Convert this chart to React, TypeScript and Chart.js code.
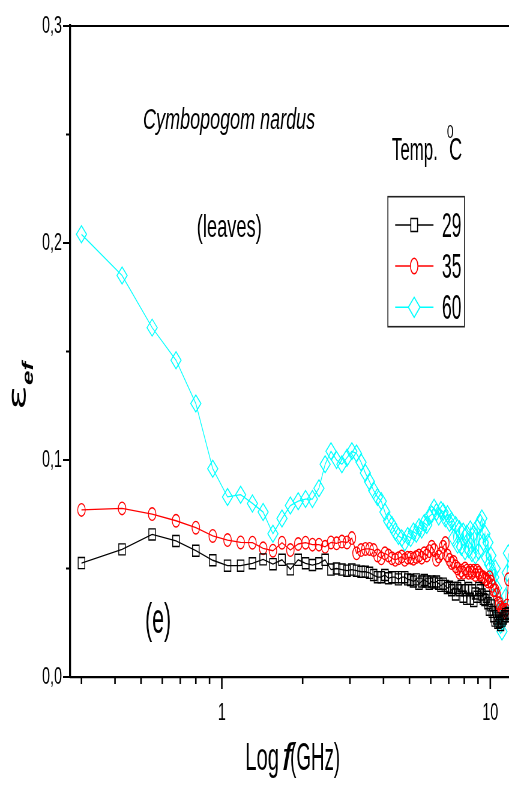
import React, { useEffect, useRef } from 'react';
import { Chart, registerables } from 'chart.js';

Chart.register(...registerables);

// ---------------- data ----------------
const freqGHz = [
  0.3, 0.425, 0.55, 0.675, 0.8, 0.925, 1.05, 1.175,
  1.3, 1.425, 1.55, 1.675, 1.8, 1.925, 2.05, 2.175,
  2.3, 2.425, 2.55, 2.675, 2.8, 2.925, 3.05, 3.175,
  3.3, 3.425, 3.55, 3.675, 3.8, 3.925, 4.05, 4.175,
  4.3, 4.425, 4.55, 4.675, 4.8, 4.925, 5.05, 5.175,
  5.3, 5.425, 5.55, 5.675, 5.8, 5.925, 6.05, 6.175,
  6.3, 6.425, 6.55, 6.675, 6.8, 6.925, 7.05, 7.175,
  7.3, 7.425, 7.55, 7.675, 7.8, 7.925, 8.05, 8.175,
  8.3, 8.425, 8.55, 8.675, 8.8, 8.925, 9.05, 9.175,
  9.3, 9.425, 9.55, 9.675, 9.8, 9.925, 10.05, 10.175,
  10.3, 10.425, 10.55, 10.675, 10.8, 10.925, 11.05, 11.175,
  11.3, 11.425, 11.55, 11.675,
];

const eps29 = [
  0.0525, 0.0588, 0.0657, 0.0627, 0.0582, 0.0538, 0.0513, 0.0513,
  0.0524, 0.0542, 0.052, 0.054, 0.0496, 0.054, 0.0524, 0.0516,
  0.0524, 0.054, 0.0495, 0.05, 0.0495, 0.049, 0.0495, 0.049,
  0.0485, 0.0485, 0.048, 0.047, 0.046, 0.046, 0.047, 0.0455,
  0.046, 0.046, 0.045, 0.046, 0.046, 0.045, 0.0447, 0.044,
  0.045, 0.043, 0.044, 0.0447, 0.044, 0.043, 0.044, 0.0435,
  0.044, 0.043, 0.042, 0.043, 0.042, 0.041, 0.0416, 0.04,
  0.041, 0.038, 0.041, 0.04, 0.042, 0.037, 0.04, 0.036,
  0.041, 0.036, 0.04, 0.035, 0.0385, 0.037, 0.041, 0.04,
  0.038, 0.036, 0.0355, 0.037, 0.034, 0.031, 0.033, 0.03,
  0.028, 0.026, 0.027, 0.025, 0.0255, 0.024, 0.026, 0.027,
  0.028, 0.029, 0.028, 0.0295,
];

const eps35 = [
  0.077, 0.0777, 0.0751, 0.072, 0.0688, 0.065, 0.0631, 0.062,
  0.0619, 0.0593, 0.0582, 0.0619, 0.0585, 0.0613, 0.0619, 0.061,
  0.061, 0.06, 0.062, 0.0616, 0.0624, 0.062, 0.064, 0.057,
  0.0585, 0.059, 0.059, 0.0585, 0.056, 0.0547, 0.057, 0.056,
  0.0547, 0.054, 0.0547, 0.0555, 0.054, 0.055, 0.055, 0.0545,
  0.0553, 0.056, 0.055, 0.057, 0.056, 0.058, 0.06, 0.0585,
  0.054, 0.0555, 0.057, 0.06, 0.0617, 0.056, 0.054, 0.0525,
  0.053, 0.051, 0.05, 0.048, 0.049, 0.048, 0.05, 0.049,
  0.048, 0.049, 0.048, 0.049, 0.047, 0.049, 0.048, 0.047,
  0.046, 0.046, 0.045, 0.045, 0.044, 0.046, 0.044, 0.042,
  0.04, 0.04, 0.038, 0.034, 0.034, 0.032, 0.031, 0.031,
  0.03, 0.031, 0.033, 0.045,
];

const eps60 = [
  0.204, 0.185, 0.161, 0.146, 0.126, 0.096, 0.083, 0.084,
  0.08, 0.076, 0.066, 0.073, 0.079, 0.081, 0.082, 0.082,
  0.087, 0.098, 0.104, 0.1, 0.098, 0.101, 0.104, 0.103,
  0.099, 0.094, 0.09, 0.086, 0.083, 0.081, 0.076, 0.072,
  0.07, 0.067, 0.065, 0.064, 0.062, 0.065, 0.064, 0.067,
  0.066, 0.069, 0.068, 0.071, 0.07, 0.074, 0.075, 0.078,
  0.076, 0.074, 0.077, 0.076, 0.073, 0.075, 0.071, 0.072,
  0.064, 0.07, 0.061, 0.068, 0.06, 0.067, 0.058, 0.066,
  0.059, 0.068, 0.057, 0.066, 0.056, 0.069, 0.058, 0.071,
  0.073, 0.062, 0.066, 0.055, 0.062, 0.052, 0.056, 0.048,
  0.046, 0.05, 0.041, 0.036, 0.03, 0.024, 0.021, 0.027,
  0.031, 0.037, 0.048, 0.057,
];

const seriesLabels = ['29', '35', '60'];
const seriesColors = ['#000000', '#ff0000', '#00ffff'];

const xMajorTicks = [1, 10];
const xTickLabels = ['1', '10'];
const xMinorTicks = [0.3, 0.4, 0.5, 0.6, 0.7, 0.8, 0.9, 2, 3, 4, 5, 6, 7, 8, 9];
const yMajorTicks = [0, 0.1, 0.2, 0.3];
const yTickLabels = ['0,0', '0,1', '0,2', '0,3'];
const yMinorTicks = [0.05, 0.15, 0.25];

// ---------------- geometry ----------------
const W = 509;
const H = 788;
const SQ = 0.6; // horizontal squeeze of the drawing
const IW = Math.round(W / SQ);
const X = (sx: number) => sx / SQ;
const FONT = "'Liberation Sans', Arial, sans-serif";

function fitText(ctx: CanvasRenderingContext2D, text: string, sx: number, baseline: number, screenW: number, font: string) {
  ctx.save();
  ctx.font = font;
  ctx.textAlign = 'left';
  ctx.textBaseline = 'alphabetic';
  const w = ctx.measureText(text).width || 1;
  ctx.translate(X(sx), baseline);
  ctx.scale(X(screenW) / w, 1);
  ctx.fillText(text, 0, 0);
  ctx.restore();
}

const decorPlugin = {
  id: 'decor',
  afterDraw(chart: any) {
    const ctx: CanvasRenderingContext2D = chart.ctx;
    const ca = chart.chartArea;
    const xs = chart.scales.x;
    const ys = chart.scales.y;
    ctx.save();
    ctx.strokeStyle = '#000';
    ctx.fillStyle = '#000';
    // top frame line
    ctx.lineWidth = 2;
    ctx.beginPath();
    ctx.moveTo(ca.left, ca.top);
    ctx.lineTo(ca.right, ca.top);
    ctx.stroke();
    // x ticks
    ctx.lineWidth = 2.6;
    const xt = (v: number, len: number) => {
      const p = xs.getPixelForValue(v);
      ctx.beginPath();
      ctx.moveTo(p, ca.bottom);
      ctx.lineTo(p, ca.bottom + len);
      ctx.stroke();
    };
    xMajorTicks.forEach((v) => xt(v, 12));
    xMinorTicks.forEach((v) => xt(v, 7));
    // y ticks
    ctx.lineWidth = 2;
    const yt = (v: number, len: number) => {
      const p = ys.getPixelForValue(v);
      ctx.beginPath();
      ctx.moveTo(ca.left, p);
      ctx.lineTo(ca.left - len, p);
      ctx.stroke();
    };
    yMajorTicks.forEach((v) => yt(v, X(7)));
    yMinorTicks.forEach((v) => yt(v, X(4)));

    // annotations
    fitText(ctx, 'Cymbopogom nardus', 143, 128.5, 172, `italic 30px ${FONT}`);
    fitText(ctx, '(leaves)', 196.7, 236.7, 65, `32px ${FONT}`);
    fitText(ctx, 'Temp.', 391.7, 160, 46, `31px ${FONT}`);
    fitText(ctx, 'C', 449, 160, 13, `31px ${FONT}`);
    fitText(ctx, '0', 446.7, 138, 6.7, `19px ${FONT}`);
    fitText(ctx, '(e)', 145, 633, 26, `42px ${FONT}`);

    // x axis title
    fitText(ctx, 'Log', 245, 770, 34, `38px ${FONT}`);
    fitText(ctx, 'f', 282, 770, 10, `italic 38px ${FONT}`);
    fitText(ctx, '(GHz)', 290, 770, 50, `38px ${FONT}`);

    // y axis title (rotated)
    ctx.save();
    ctx.translate(X(25), 410);
    ctx.rotate(-Math.PI / 2);
    ctx.textAlign = 'left';
    ctx.textBaseline = 'alphabetic';
    ctx.font = "40px 'DejaVu Sans', sans-serif";
    let w = ctx.measureText('ε').width || 1;
    ctx.save();
    ctx.scale(25 / w, 1);
    ctx.fillText('ε', 0, 0);
    ctx.restore();
    ctx.font = `italic bold 26px ${FONT}`;
    w = ctx.measureText('ef').width || 1;
    ctx.save();
    ctx.translate(25, X(8));
    ctx.scale(23 / w, 1);
    ctx.fillText('ef', 0, 0);
    ctx.restore();
    ctx.restore();

    // legend
    ctx.lineWidth = 1.6;
    ctx.strokeStyle = '#222';
    ctx.strokeRect(X(387.7), 196.7, X(464.3 - 387.7), 130);
    const rowsY = [225, 266, 307.3];
    const baseY = [236.7, 278.3, 319.3];
    for (let i = 0; i < 3; i++) {
      const cy = rowsY[i];
      const cx = X(414);
      ctx.strokeStyle = seriesColors[i];
      ctx.lineWidth = 1.4;
      ctx.beginPath();
      ctx.moveTo(X(395), cy);
      ctx.lineTo(X(433.3), cy);
      ctx.stroke();
      ctx.beginPath();
      if (i === 0) {
        ctx.rect(cx - X(3.4), cy - 6.5, X(6.8), 13);
      } else if (i === 1) {
        ctx.ellipse(cx, cy, X(3.7), 7.8, 0, 0, Math.PI * 2);
      } else {
        ctx.moveTo(cx, cy - 10);
        ctx.lineTo(cx + X(5.8), cy);
        ctx.lineTo(cx, cy + 10);
        ctx.lineTo(cx - X(5.8), cy);
        ctx.closePath();
      }
      ctx.fillStyle = '#fff';
      ctx.fill();
      ctx.lineWidth = 1.6;
      ctx.stroke();
      ctx.fillStyle = '#000';
      fitText(ctx, seriesLabels[i], 441.7, baseY[i], 19.5, `35px ${FONT}`);
    }
    ctx.restore();
  },
};

export default function App() {
  const ref = useRef<HTMLCanvasElement | null>(null);

  useEffect(() => {
    const canvas = ref.current;
    if (!canvas) return;
    const series = [eps29, eps35, eps60];
    const styles = ['rect', 'circle', 'rectRot'];
    const radii = [7.8, 6.3, 8.5];
    const chart = new Chart(canvas, {
      type: 'line',
      data: {
        datasets: series.map((vals, k) => ({
          label: seriesLabels[k],
          data: freqGHz.map((f, i) => ({ x: f, y: vals[i] })),
          borderColor: seriesColors[k],
          borderWidth: 1.3,
          pointStyle: styles[k] as any,
          pointRadius: radii[k],
          pointBorderColor: seriesColors[k],
          pointBackgroundColor: 'rgba(0,0,0,0)',
          pointBorderWidth: 1.4,
          tension: 0,
          fill: false,
        })),
      },
      options: {
        responsive: false,
        animation: false,
        devicePixelRatio: 1,
        events: [],
        layout: { autoPadding: false, padding: { top: 26, right: 0, left: 0, bottom: 0 } },
        plugins: { legend: { display: false }, tooltip: { enabled: false }, title: { display: false } },
        scales: {
          x: {
            type: 'logarithmic',
            position: 'bottom',
            min: 0.272,
            max: 11.74,
            grid: { display: false, drawTicks: false, drawOnChartArea: false },
            border: { display: true, color: '#000', width: 2.2 },
            ticks: {
              autoSkip: false,
              maxRotation: 0,
              minRotation: 0,
              padding: 22,
              color: '#000',
              font: { family: FONT, size: 24 },
              callback: (v: any) => {
                const idx = xMajorTicks.findIndex((m) => Math.abs(m - Number(v)) < 1e-9);
                return idx >= 0 ? xTickLabels[idx] : '';
              },
            },
            afterBuildTicks: (s: any) => {
              s.ticks = [...xMinorTicks, ...xMajorTicks].sort((a, b) => a - b).map((v) => ({ value: v }));
            },
            afterFit: (s: any) => {
              s.height = H - 677;
              s.paddingLeft = 0;
              s.paddingRight = 0;
            },
          },
          y: {
            type: 'linear',
            min: 0,
            max: 0.3,
            grid: { display: false, drawTicks: false, drawOnChartArea: false },
            border: { display: true, color: '#000', width: 3.3 },
            ticks: {
              autoSkip: false,
              padding: X(8),
              color: '#000',
              font: { family: FONT, size: 24 },
              callback: (v: any) => {
                const idx = yMajorTicks.findIndex((m) => Math.abs(m - Number(v)) < 1e-9);
                return idx >= 0 ? yTickLabels[idx] : '';
              },
            },
            afterBuildTicks: (s: any) => {
              s.ticks = [...yMajorTicks, ...yMinorTicks].sort((a, b) => a - b).map((v) => ({ value: v }));
            },
            afterFit: (s: any) => {
              s.width = X(70);
              s.paddingTop = 0;
              s.paddingBottom = 0;
            },
          },
        },
      } as any,
      plugins: [decorPlugin],
    });
    return () => chart.destroy();
  }, []);

  return (
    <div style={{ position: 'absolute', left: 0, top: 0, width: W, height: H, background: '#fff' }}>
      <canvas
        ref={ref}
        width={IW}
        height={H}
        style={{ position: 'absolute', left: 0, top: 0, width: `${W}px`, height: `${H}px` }}
      />
    </div>
  );
}
